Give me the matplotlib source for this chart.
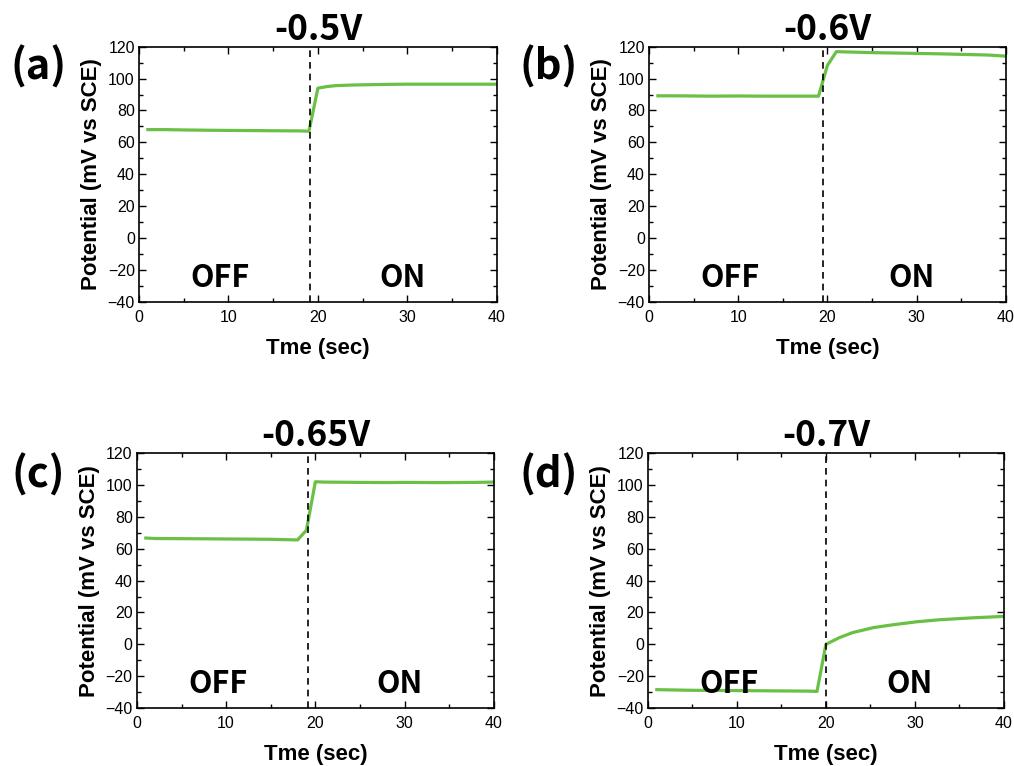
import matplotlib
matplotlib.use('Agg')
import matplotlib.pyplot as plt
from matplotlib.ticker import MultipleLocator

# Potential vs time under OFF/ON conditions, four applied voltages

titles = ['-0.5V', '-0.6V', '-0.65V', '-0.7V']
panel_labels = ['(a)', '(b)', '(c)', '(d)']
switch_times = [19.1, 19.5, 19.2, 20.0]

time_a = [1, 3, 5, 8, 10, 13, 15, 18, 19, 20, 21, 22, 24, 26, 28, 30, 35, 40]
pot_a = [68, 68, 67.8, 67.6, 67.5, 67.4, 67.3, 67.2, 67, 94, 95, 95.6, 96, 96.2, 96.4, 96.5, 96.5, 96.5]

time_b = [1, 3, 5, 7, 10, 13, 15, 18, 19, 20, 21, 23, 25, 28, 30, 33, 35, 38, 40]
pot_b = [89.2, 89.2, 89.1, 89, 89.1, 89, 89, 89, 89, 108.3, 116.9, 116.6, 116.3, 116, 115.8, 115.5, 115.2, 114.8, 114.1]

time_c = [1, 2, 5, 8, 10, 13, 15, 18, 19, 20, 21, 23, 25, 28, 30, 33, 35, 38, 40]
pot_c = [66.8, 66.5, 66.4, 66.3, 66.2, 66.1, 66, 65.6, 71.7, 102.2, 102, 101.9, 101.8, 101.7, 101.8, 101.7, 101.7, 101.8, 102]

time_d = [1, 3, 5, 8, 10, 13, 15, 18, 19, 20, 21.5, 23, 25.3, 27.5, 30.2, 32.8, 36.5, 40]
pot_d = [-28.6, -28.8, -29, -29.1, -29.2, -29.3, -29.4, -29.5, -29.7, -0.1, 4.1, 7.3, 10.4, 12.2, 14.1, 15.4, 16.6, 17.5]

times = [time_a, time_b, time_c, time_d]
pots = [pot_a, pot_b, pot_c, pot_d]

green = '#6abf45'
bold_font = ['Noto Sans CJK KR', 'DejaVu Sans']
arial = ['Liberation Sans', 'DejaVu Sans']

fig = plt.figure(figsize=(10.14, 7.66), dpi=100)

# axes boxes in figure fractions [left, bottom, width, height]
boxes = [
    [0.137, 0.606, 0.353, 0.333],
    [0.640, 0.606, 0.352, 0.333],
    [0.135, 0.076, 0.352, 0.332],
    [0.639, 0.076, 0.351, 0.332],
]
label_pos = [(0.038, 0.912), (0.541, 0.912), (0.038, 0.380), (0.541, 0.380)]

for i in range(4):
    ax = fig.add_axes(boxes[i])
    ax.plot(times[i], pots[i], color=green, linewidth=2.3, solid_joinstyle='round')
    ax.axvline(switch_times[i], color='black', linestyle=(0, (4, 3)), linewidth=1.2)

    ax.set_xlim(0, 40)
    ax.set_ylim(-40, 120)
    ax.xaxis.set_major_locator(MultipleLocator(10))
    ax.xaxis.set_minor_locator(MultipleLocator(5))
    ax.yaxis.set_major_locator(MultipleLocator(20))
    ax.yaxis.set_minor_locator(MultipleLocator(10))
    ax.tick_params(which='both', direction='in', top=True, right=True, width=1.0)
    ax.tick_params(which='major', length=5, labelsize=11.5)
    ax.tick_params(axis='x', which='major', pad=6)
    ax.tick_params(axis='y', which='major', pad=3)
    ax.tick_params(which='minor', length=3)
    for lab in ax.get_xticklabels() + ax.get_yticklabels():
        lab.set_family(arial)
    for sp in ax.spines.values():
        sp.set_linewidth(1.2)

    ax.set_xlabel('Tme (sec)', fontsize=16, fontweight='bold', family=arial, labelpad=9)
    ax.set_ylabel('Potential (mV vs SCE)', fontsize=16, fontweight='bold', family=arial, labelpad=4)
    ax.set_title(titles[i], fontsize=25.5, fontweight='bold', family=bold_font, pad=-1)

    ax.text(9.1, -25, 'OFF', fontsize=22, fontweight='bold', family=bold_font, ha='center', va='center')
    ax.text(29.4, -25, 'ON', fontsize=22, fontweight='bold', family=bold_font, ha='center', va='center')

    fig.text(label_pos[i][0], label_pos[i][1], panel_labels[i], fontsize=30, fontweight='bold',
             family=bold_font, ha='center', va='center')

fig.savefig('out.png', dpi=100)
